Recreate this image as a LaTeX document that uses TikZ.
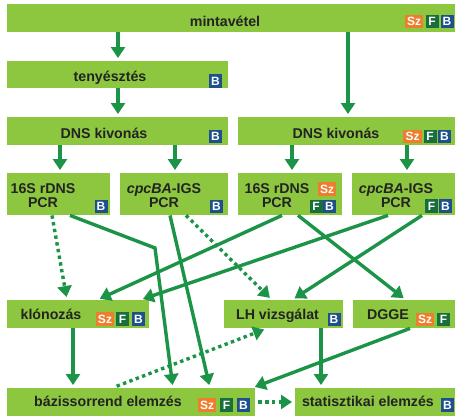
\documentclass[tikz,border=0pt]{standalone}
\usepackage{fontspec}
\setmainfont{Liberation Sans}
\usetikzlibrary{arrows.meta}

\definecolor{boxgreen}{RGB}{141,198,63}
\definecolor{flowgreen}{RGB}{28,148,72}
\definecolor{textgray}{RGB}{35,35,35}
\definecolor{szorange}{RGB}{238,125,45}
\definecolor{fgreen}{RGB}{24,110,60}
\definecolor{bblue}{RGB}{30,80,140}

\begin{document}
\begin{tikzpicture}[x=1pt,y=-1pt]
	\tikzstyle{box}=[fill=boxgreen,inner sep=0pt,anchor=north west]
	\tikzstyle{txt}=[text=textgray,font=\bfseries\fontsize{14.2}{14}\selectfont,inner sep=0pt,anchor=base]
	\tikzstyle{twoline}=[txt,align=center,anchor=north]
	\tikzstyle{badge}=[text=white,font=\bfseries\fontsize{12}{12}\selectfont,inner sep=0pt,minimum height=13.5pt,minimum width=13pt]
	\tikzstyle{badgeSz}=[badge,fill=szorange,minimum width=18.5pt]
	\tikzstyle{badgeF}=[badge,fill=fgreen]
	\tikzstyle{badgeB}=[badge,fill=bblue]
	\tikzstyle{flow}=[draw=flowgreen,line width=3.4pt,shorten >=3pt,-{Triangle[width=14pt,length=11pt]}]
	\tikzstyle{dots}=[flow,dash pattern=on 3.4pt off 3.4pt]
	\useasboundingbox (0,0) rectangle (455,415);
	\clip (0,0) rectangle (455,415);
	\fill[white] (0,0) rectangle (455,415);
	% boxes
	\node[box,minimum width=450pt,minimum height=28pt] (1) at (7,4) {};
	\node[box,minimum width=221pt,minimum height=27pt] (2) at (7,61) {};
	\node[box,minimum width=221pt,minimum height=28pt] (3) at (7,117) {};
	\node[box,minimum width=222pt,minimum height=28pt] (4) at (238,117) {};
	\node[box,minimum width=103pt,minimum height=42pt] (5) at (7,173) {};
	\node[box,minimum width=108pt,minimum height=42pt] (6) at (120,173) {};
	\node[box,minimum width=104pt,minimum height=42pt] (7) at (238,173) {};
	\node[box,minimum width=108pt,minimum height=42pt] (8) at (352,173) {};
	\node[box,minimum width=142pt,minimum height=28pt] (9) at (7,300) {};
	\node[box,minimum width=119pt,minimum height=28pt] (10) at (224,300) {};
	\node[box,minimum width=107pt,minimum height=28pt] (11) at (353,300) {};
	\node[box,minimum width=248pt,minimum height=30pt] (12) at (7,388) {};
	\node[box,minimum width=165pt,minimum height=30pt] (13) at (295,388) {};
	% texts
	\node[txt] (t1) at (225,26) {mintavétel};
	\node[txt] (t2) at (110,81) {tenyésztés};
	\node[txt] (t3) at (104,138) {DNS kivonás};
	\node[txt] (t4) at (336,138) {DNS kivonás};
	\node[twoline] (t5) at (43,183) {16S rDNS\\PCR};
	\node[twoline] (t6) at (164,183) {\textit{cpcBA}-IGS\\PCR};
	\node[twoline] (t7) at (277,183) {16S rDNS\\PCR};
	\node[twoline] (t8) at (396,183) {\textit{cpcBA}-IGS\\PCR};
	\node[txt] (t9) at (51,319) {klónozás};
	\node[txt] (t10) at (277.5,319.5) {LH vizsgálat};
	\node[txt] (t11) at (388,319.5) {DGGE};
	\node[txt] (t12) at (108,406) {bázissorrend elemzés};
	\node[txt] (t13) at (368,406) {statisztikai elemzés};
	% lab badges
	\node[badgeSz] (s1) at (414,21.5) {Sz};
	\node[badgeF] (f1) at (432,21.5) {F};
	\node[badgeB] (b1) at (447,21.5) {B};
	\node[badgeB] (b2) at (215.5,81) {B};
	\node[badgeB] (b3) at (215.5,136.5) {B};
	\node[badgeSz] (s4) at (412.5,136.5) {Sz};
	\node[badgeF] (f4) at (430,136.5) {F};
	\node[badgeB] (b4) at (444.5,136.5) {B};
	\node[badgeB] (b5) at (101,206.5) {B};
	\node[badgeB] (b6) at (216.5,206.5) {B};
	\node[badgeSz] (s7) at (327,189) {Sz};
	\node[badgeF] (f7) at (316,206.5) {F};
	\node[badgeB] (b7) at (329.5,206.5) {B};
	\node[badgeF] (f8) at (431.5,206) {F};
	\node[badgeB] (b8) at (445.5,206) {B};
	\node[badgeSz] (s9) at (105,319) {Sz};
	\node[badgeF] (f9) at (122.5,319) {F};
	\node[badgeB] (b9) at (138.5,319) {B};
	\node[badgeB] (b10) at (334,319.5) {B};
	\node[badgeSz] (s11) at (425,319.5) {Sz};
	\node[badgeF] (f11) at (443.5,319.5) {F};
	\node[badgeSz] (s12) at (207,405) {Sz};
	\node[badgeF] (f12) at (226.5,405) {F};
	\node[badgeB] (b12) at (243.5,405) {B};
	\node[badgeB] (b13) at (447.5,405) {B};
	% connectors
	\coordinate (bend) at (155,248);
	\draw[flow] (1.south -| 118,0) -- (2.north -| 118,0);
	\draw[flow] (2.south -| 118,0) -- (3.north -| 118,0);
	\draw[flow] (1.south -| 348,0) -- (4.north -| 348,0);
	\draw[flow] (3.south -| 60,0) -- (5.north -| 60,0);
	\draw[flow] (3.south -| 175,0) -- (6.north -| 175,0);
	\draw[flow] (4.south -| 292,0) -- (7.north -| 292,0);
	\draw[flow] (4.south -| 407,0) -- (8.north -| 407,0);
	\draw[dots] (5.south -| 52,0) -- (9.north -| 67,0);
	\draw[flow] (5.south -| 70,0) -- (bend) -- (12.north -| 173,0);
	\draw[flow] (6.south -| 170,0) -- (12.north -| 210,0);
	\draw[dots] (6.south -| 186,0) -- (10.north -| 272,0);
	\draw[flow] (7.south -| 282,0) -- (9.north -| 97,0);
	\draw[flow] (7.south -| 298,0) -- (11.north -| 406,0);
	\draw[flow] (8.south -| 388,0) -- (9.north -| 140,0);
	\draw[flow] (8.south -| 422,0) -- (10.north -| 292,0);
	\draw[flow] (9.south -| 73,0) -- (12.north -| 73,0);
	\draw[flow] (10.south -| 321,0) -- (13.north -| 321,0);
	\draw[flow] (11.south -| 410,0) -- (12.north -| 252,0);
	\draw[dots,shorten <=5pt] (12.north -| 112,0) -- (10.south -| 267,0);
	\draw[dots,shorten <=3pt] (12.east |- 0,402) -- (13.west |- 0,402);
\end{tikzpicture}
\end{document}
